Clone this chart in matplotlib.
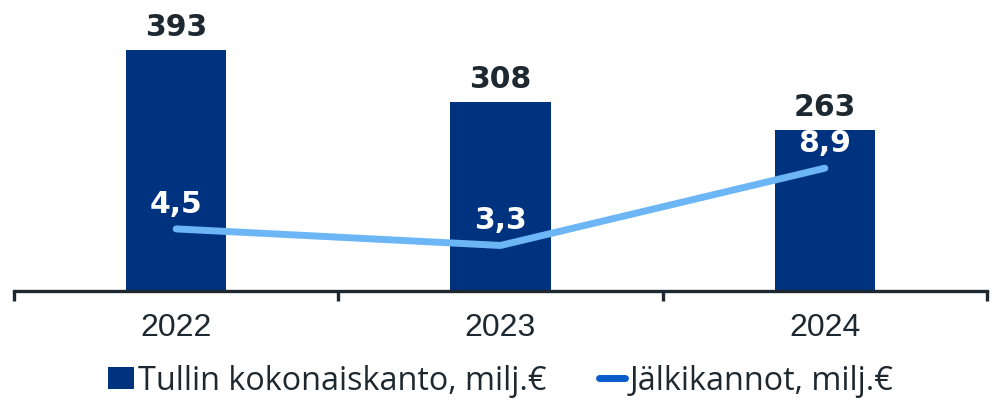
import matplotlib
matplotlib.use("Agg")
import matplotlib.pyplot as plt
from matplotlib.patches import Patch
from matplotlib.lines import Line2D
from matplotlib.transforms import offset_copy

years = ["2022", "2023", "2024"]
total = [393, 308, 263]
total_labels = ["393", "308", "263"]
backcharges = [4.5, 3.3, 8.9]
back_labels = ["4,5", "3,3", "8,9"]
legend_labels = ["Tullin kokonaiskanto, milj.€", "Jälkikannot, milj.€"]

BAR = "#00337F"
LINE = "#6DB6F6"
LEG_LINE = "#0A5CCB"
TXT = "#1E2830"

fig = plt.figure(figsize=(10.01, 4.16), dpi=100)
W, H = 1001, 416
ax = fig.add_axes([14 / W, (H - 291) / H, (987 - 14) / W, (291 - 15) / H])
ax2 = ax.twinx()

x = list(range(len(years)))
ax.bar(x, total, width=0.31, color=BAR, zorder=2)
ax.set_xlim(-0.5, 2.5)
ax.set_ylim(0, 450)
ax2.set_ylim(0, 20)

ax2.plot(x, backcharges, color=LINE, lw=5.0, solid_capstyle="round",
         solid_joinstyle="round", zorder=3)

for a in (ax, ax2):
    for s in ("top", "right", "left"):
        a.spines[s].set_visible(False)
    a.set_yticks([])
ax.spines["bottom"].set_color(TXT)
ax.spines["bottom"].set_linewidth(2.4)
ax2.spines["bottom"].set_visible(False)

ax.set_xticks([-0.5, 0.5, 1.5, 2.5])
ax.set_xticklabels([])
ax.tick_params(axis="x", which="major", length=7, width=2.4, color=TXT, direction="out")
ax.set_xticks(x, minor=True)
ax.set_xticklabels(years, minor=True, fontsize=23, color=TXT, family="Liberation Sans")
ax.tick_params(axis="x", which="minor", length=0, pad=16)

for xi, v, lab in zip(x, total, total_labels):
    tr = offset_copy(ax.transData, fig=fig, x=0, y=14, units="dots")
    ax.text(xi, v, lab, transform=tr, ha="center", va="baseline",
            fontsize=21.5, fontweight="bold", color=TXT, family="DejaVu Sans")

for xi, v, lab in zip(x, backcharges, back_labels):
    tr = offset_copy(ax2.transData, fig=fig, x=0, y=16, units="dots")
    ax2.text(xi, v, lab, transform=tr, ha="center", va="baseline",
             fontsize=21.5, fontweight="bold", color="white", family="DejaVu Sans",
             zorder=4)

handles = [Patch(facecolor=BAR, edgecolor="none"),
           Line2D([0], [0], color=LEG_LINE, lw=5.0, solid_capstyle="round")]
fig.legend(handles, legend_labels, loc="center", bbox_to_anchor=(0.5, 35 / H),
           ncol=2, frameon=False, handlelength=0.8, handleheight=0.68,
           handletextpad=0.15, columnspacing=1.6, labelcolor=TXT,
           prop={"family": "Open Sans", "size": 23.3})

fig.savefig("out.png", dpi=100)
